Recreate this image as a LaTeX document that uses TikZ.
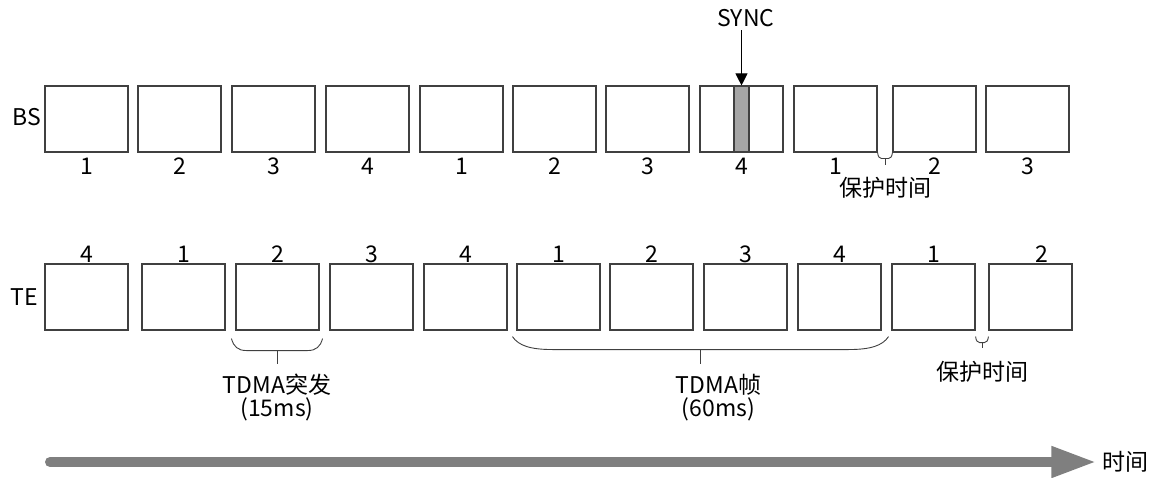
\documentclass[tikz,border=0pt]{standalone}
\usepackage{fontspec}
\setmainfont{Noto Sans CJK SC}
\usetikzlibrary{calc,arrows.meta}
\definecolor{trait}{HTML}{404040}
\definecolor{axegris}{HTML}{7F7F7F}
\tikzset{
	creneau/.style={draw=trait, line width=1.1pt, fill=white, minimum width=83pt, minimum height=66pt, inner sep=0pt},
	salve/.style={draw=trait, line width=1.1pt, fill=gray!70, minimum width=15pt, minimum height=66pt, inner sep=0pt},
	accol/.style={draw=trait, line width=0.9pt},
	axe/.style={draw=axegris, line width=10pt, line cap=round, -{Triangle[length=45pt,width=29pt]}, shorten >=2pt}
}
% accolade arrondie : #1,#2 extremites, #3 profondeur, #4 rayon, #5 queue, #6 nom du bout
\newcommand{\accolade}[6]{%
	\draw[accol] (#1) .. controls ($(#1)+(0.15*#4,-0.7*#3)$) and ($(#1)+(0.45*#4,-#3)$) .. ($(#1)+(#4,-#3)$)
		-- ($(#2)+(-#4,-#3)$) .. controls ($(#2)+(-0.45*#4,-#3)$) and ($(#2)+(-0.15*#4,-0.7*#3)$) .. (#2);
	\draw[accol] ($(#1)!0.5!(#2)+(0,-#3)$) -- ++(0,-#5) coordinate (#6);
}

\begin{document}
\begin{tikzpicture}[x=1pt, y=1pt, font=\fontsize{23}{23}\selectfont]
	\useasboundingbox (0,0) rectangle (1153,477);
	% ligne BS
	\node (bs) at (27,360) {BS};
	\foreach \x/\n [count=\i] in {45/1,138/2,232/3,326/4,420/1,513/2,606/3,700/4,794/1,893/2,986/3} {
		\node[creneau] (bs\i) at (\x+41.5,358) {};
		\node[anchor=base] (nbs\i) at ([yshift=-22pt]bs\i.south) {\n};
	}
	% salve de synchro dans le creneau 4
	\node[salve] (barre) at (741.5,358) {};
	\node (sync) at (746,459) {SYNC};
	\draw[line width=1pt, -{Triangle[length=12pt,width=12pt]}] (barre.north |- sync.south) -- (barre.north);
	% ligne TE
	\node (te) at (24,180) {TE};
	\foreach \x/\n/\d [count=\i] in {45/4/0,142/1/0,236/2/0,330/3/0,424/4/0,517/1/0,610/2/0,704/3/0,798/4/0,892/1/0,989/2/11} {
		\node[creneau] (te\i) at (\x+41.5,180) {};
		\node[anchor=base] (nte\i) at ([xshift=\d pt, yshift=1pt]te\i.north) {\n};
	}
	% bouts des accolades
	\coordinate (g1) at (bs9.south east);
	\coordinate (d1) at (bs10.south west);
	\coordinate (g2) at ([shift={(-4,-8)}]te3.south west);
	\coordinate (d2) at ([shift={(3,-8)}]te3.south east);
	\coordinate (g3) at ([shift={(-4,-6)}]te6.south west);
	\coordinate (d3) at ([shift={(7,-6)}]te9.south east);
	\coordinate (g4) at ([yshift=-6pt]te10.south east);
	\coordinate (d4) at ([yshift=-6pt]te11.south west);
	\accolade{g1}{d1}{6}{4}{6}{q1}
	\accolade{g2}{d2}{12}{15}{13}{q2}
	\accolade{g3}{d3}{13}{40}{14}{q3}
	\accolade{g4}{d4}{6}{4}{5}{q4}
	\node[anchor=north] (garde1) at ([yshift=-9pt]q1) {保护时间};
	\node[anchor=north, align=center] (salveTE) at ([yshift=-7pt]q2) {TDMA突发\\(15ms)};
	\node[anchor=north, align=center] (trame) at ([shift={(18,-7)}]q3) {TDMA帧\\(60ms)};
	\node[anchor=north] (garde2) at ([yshift=-10pt]q4) {保护时间};
	% axe du temps
	\coordinate (t0) at (50,15);
	\node (temps) at (1125,15) {时间};
	\draw[axe] (t0) -- (temps);
\end{tikzpicture}
\end{document}
